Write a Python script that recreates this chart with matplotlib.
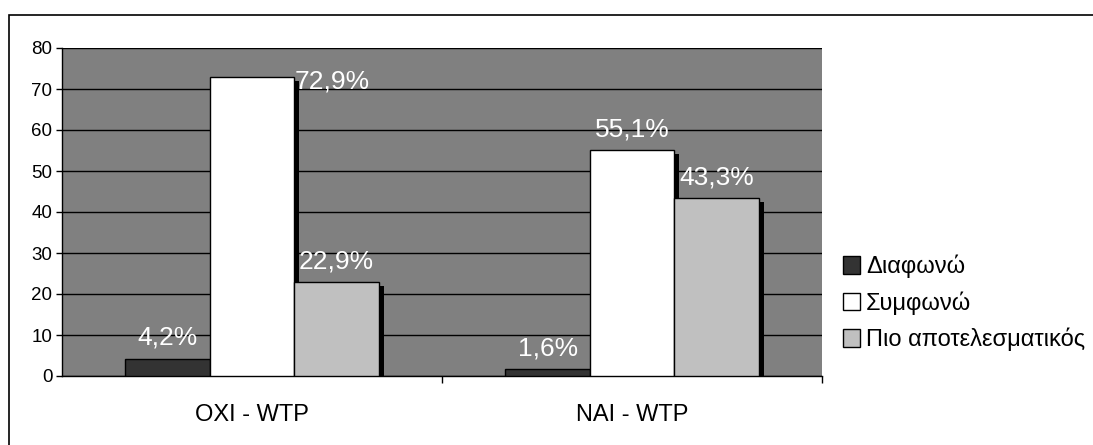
import matplotlib.pyplot as plt
import numpy as np
from matplotlib import patheffects
from matplotlib.patches import Rectangle

plt.rcParams['font.family'] = ['Liberation Sans', 'DejaVu Sans']

categories = ['OXI - WTP', 'NAI - WTP']
series_names = ['Διαφωνώ', 'Συμφωνώ', 'Πιο αποτελεσματικός']
series_values = [
    [4.2, 1.6],
    [72.9, 55.1],
    [22.9, 43.3],
]
bar_colors = ['#333333', '#ffffff', '#c0c0c0']
y_ticks = [0, 10, 20, 30, 40, 50, 60, 70, 80]

fig = plt.figure(figsize=(10.93, 4.45), dpi=100)
ax = fig.add_axes([62 / 1093, 69 / 445, 760 / 1093, 328 / 445])
ax.set_facecolor('#808080')

# outer chart border (cut off at right and bottom like the original)
fig.patches.append(Rectangle((9 / 1093, -0.1), 1.2, (445 - 15) / 445 + 0.1,
                             transform=fig.transFigure, fill=False,
                             edgecolor='black', linewidth=1.2))

x = np.arange(len(categories))
width = 0.222
shadow = [patheffects.SimplePatchShadow(offset=(3.8, -2.5), shadow_rgbFace='black', alpha=1.0),
          patheffects.Normal()]

for i, (name, vals, col) in enumerate(zip(series_names, series_values, bar_colors)):
    pos = x + (i - 1) * width
    bars = ax.bar(pos, vals, width, color=col, edgecolor='black', linewidth=1.0,
                  label=name, zorder=3)
    for b in bars:
        b.set_path_effects(shadow)
    for px, v in zip(pos, vals):
        txt = f'{v:.1f}%'.replace('.', ',')
        if v > 70:
            # label sits beside the tallest bar, as in the original
            ax.annotate(txt, (px + width / 2, v), xytext=(0, -3), textcoords='offset points',
                        ha='left', va='center', color='white', fontsize=19, zorder=5)
        else:
            ax.annotate(txt, (px, v), xytext=(0, 15), textcoords='offset points',
                        ha='center', va='center', color='white', fontsize=19, zorder=5)

ax.set_ylim(0, 80)
ax.set_xlim(-0.5, 1.5)
ax.set_yticks(y_ticks)
ax.tick_params(axis='y', direction='out', length=4, width=1, labelsize=13.5, pad=3)
ax.yaxis.grid(True, color='black', linewidth=1.0, zorder=1)
ax.set_axisbelow(True)

ax.set_xticks([0.5, 1.5])
ax.set_xticklabels(['', ''])
ax.set_xticks(x, minor=True)
ax.set_xticklabels(categories, minor=True, fontsize=17)
ax.tick_params(axis='x', which='major', direction='out', length=5, width=1)
ax.tick_params(axis='x', which='minor', length=0, pad=20)

for s in ['top', 'right']:
    ax.spines[s].set_visible(False)
for s in ['left', 'bottom']:
    ax.spines[s].set_linewidth(1.0)

leg = ax.legend(loc='center left', bbox_to_anchor=(1.027, 0.223), frameon=False,
                fontsize=17, handlelength=0.75, handleheight=0.75, handletextpad=0.25,
                labelspacing=0.55, borderaxespad=0, borderpad=0)
for h in leg.legend_handles:
    h.set_path_effects([])

fig.savefig('out.png', dpi=100)
